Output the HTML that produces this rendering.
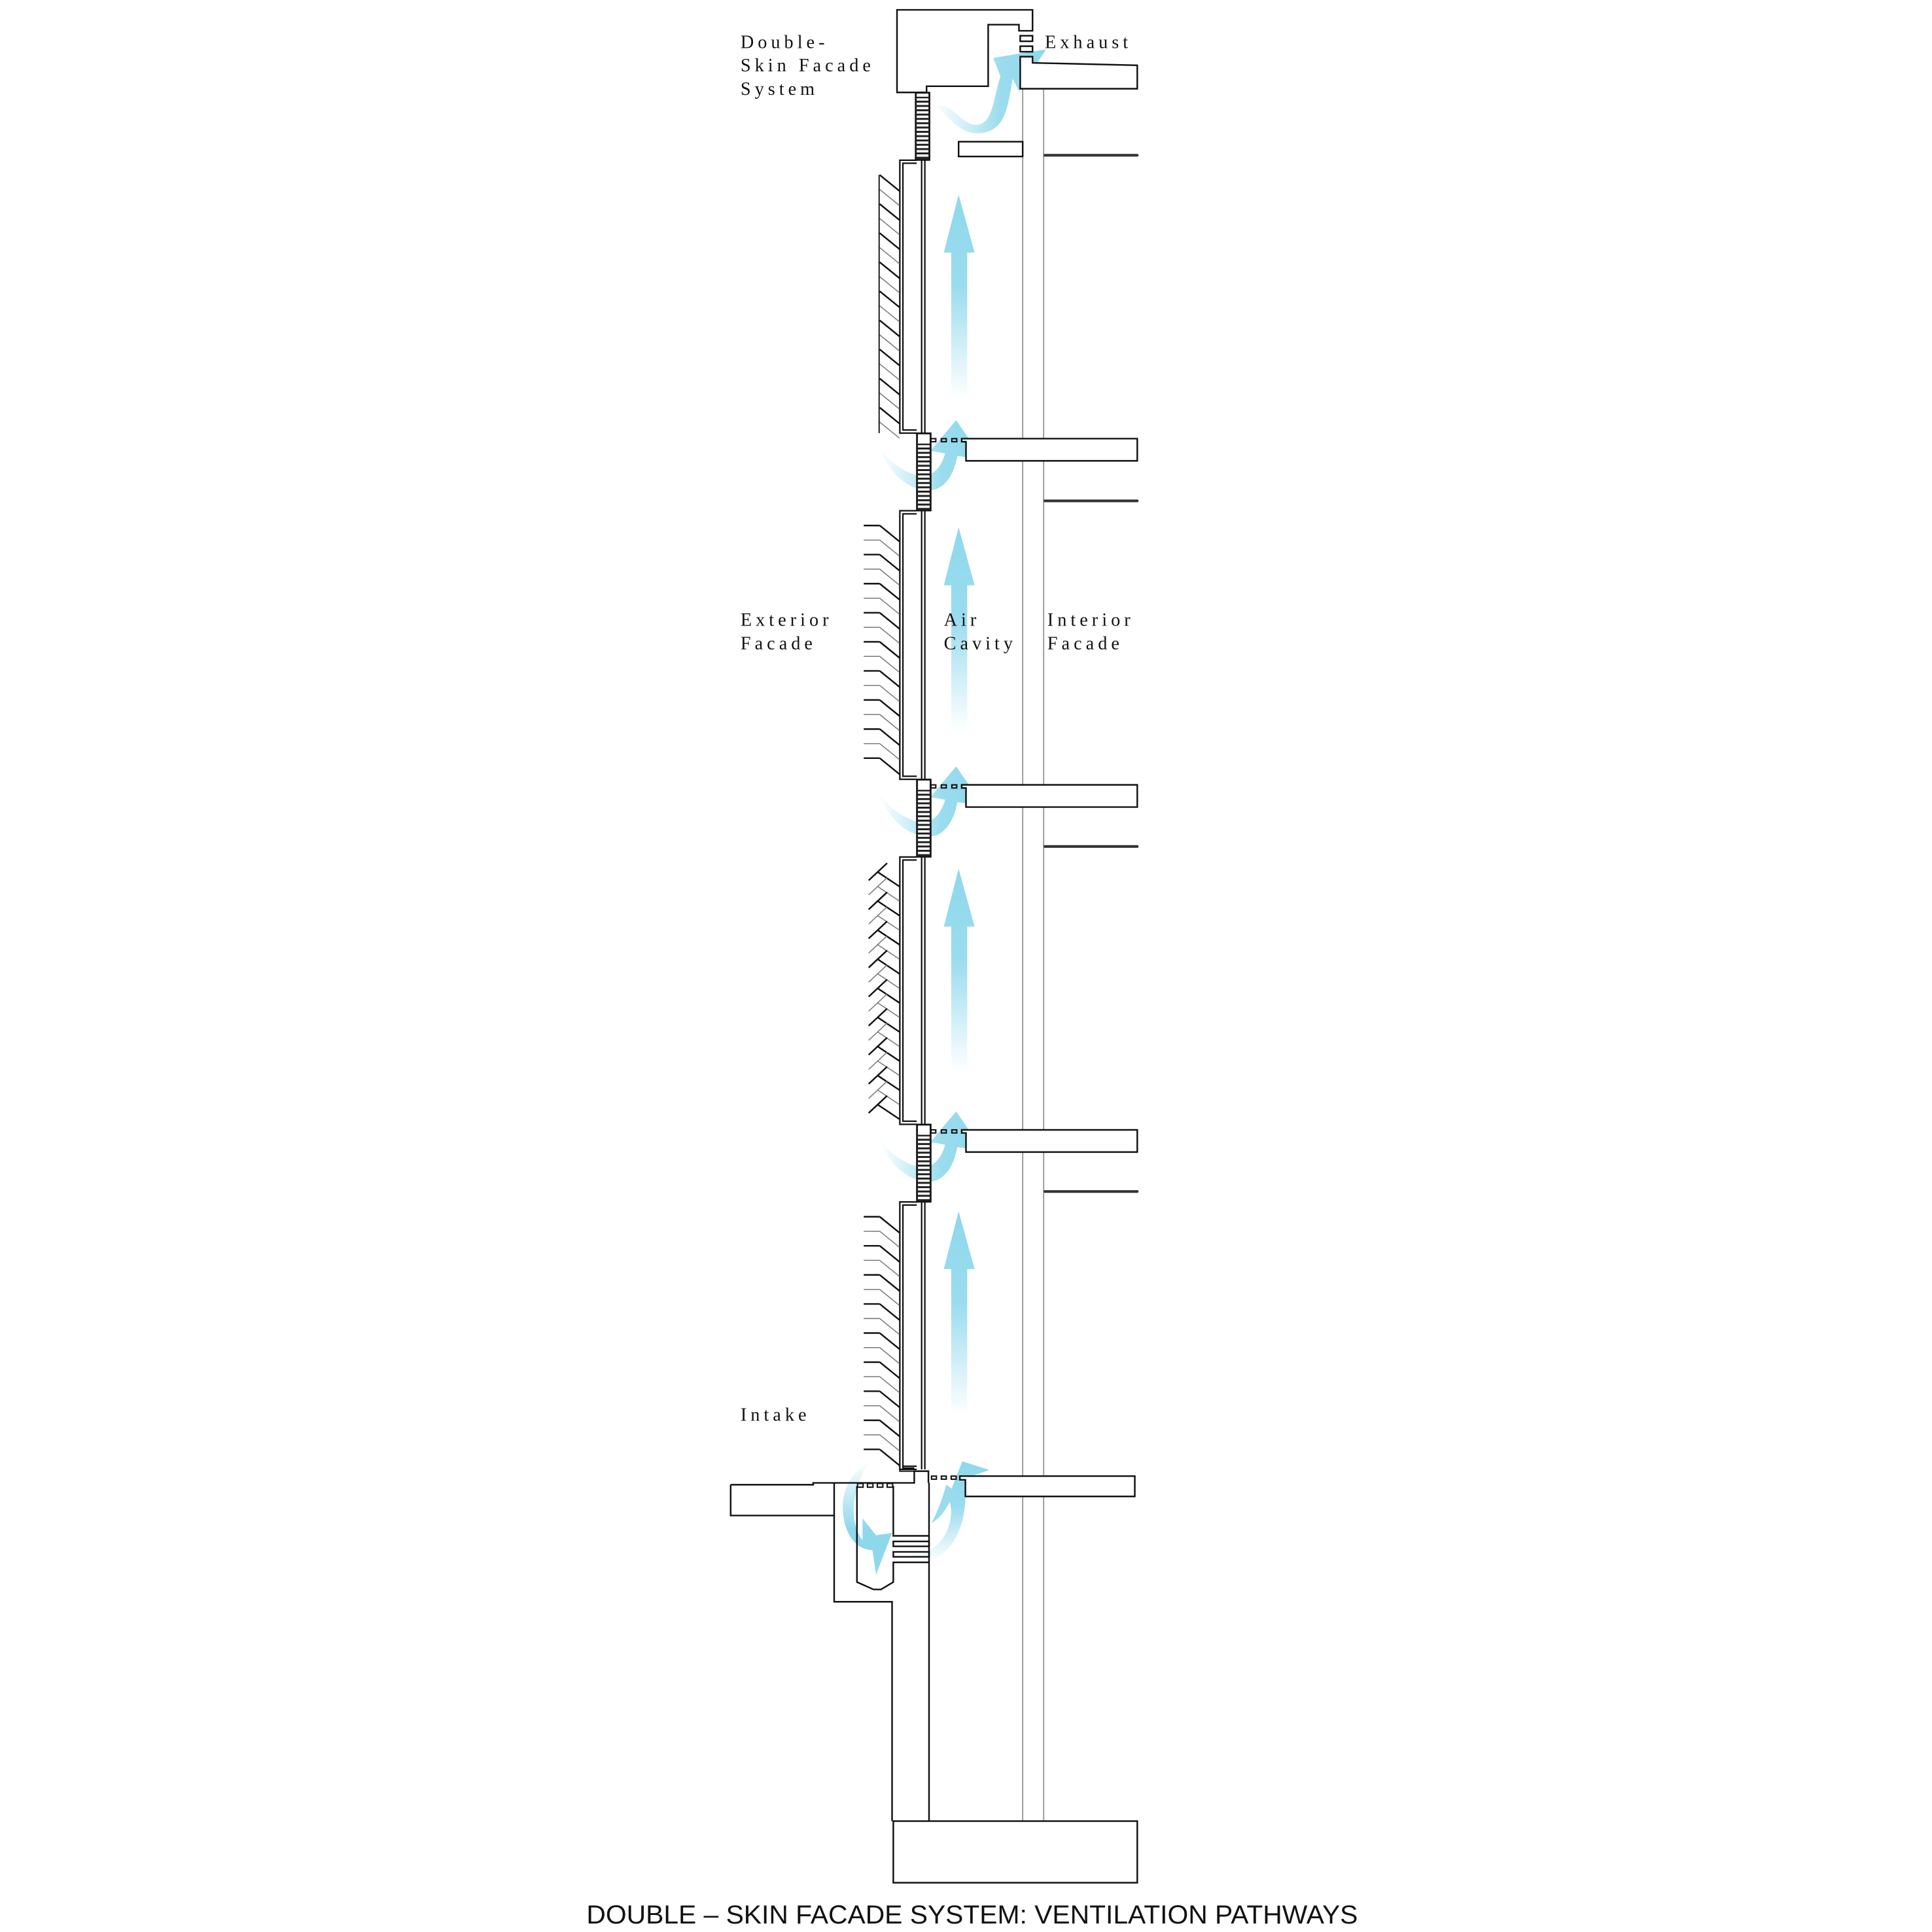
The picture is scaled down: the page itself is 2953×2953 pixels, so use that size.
<!DOCTYPE html>
<html><head><meta charset="utf-8"><style>
html,body{margin:0;padding:0;background:#fff;}
svg{display:block;}
.lbl{font-family:"Liberation Serif",serif;font-size:15px;letter-spacing:3.2px;fill:#111;}
</style></head><body>
<svg id="s" xmlns="http://www.w3.org/2000/svg" width="2953" height="2953" viewBox="0 0 1568 1568">
<defs>
<linearGradient id="up" x1="0" y1="1" x2="0" y2="0">
<stop offset="0" stop-color="#8fd8ec" stop-opacity="0"/>
<stop offset="0.55" stop-color="#8fd8ec" stop-opacity="0.9"/>
<stop offset="1" stop-color="#8fd8ec"/>
</linearGradient>
<linearGradient id="lr" x1="0" y1="0" x2="1" y2="0">
<stop offset="0" stop-color="#8fd8ec" stop-opacity="0"/>
<stop offset="0.6" stop-color="#8fd8ec" stop-opacity="0.9"/>
<stop offset="1" stop-color="#8fd8ec"/>
</linearGradient>
<linearGradient id="dn" x1="0" y1="0" x2="0" y2="1">
<stop offset="0" stop-color="#8fd8ec" stop-opacity="0"/>
<stop offset="0.6" stop-color="#8fd8ec"/>
<stop offset="1" stop-color="#8fd8ec"/>
</linearGradient>
</defs>
<rect width="1568" height="1568" fill="#fff"/>
<g id="blue"></g>
<!-- grey interior facade lines -->
<line x1="830" y1="71" x2="830" y2="1478" stroke="#a0a0a0" stroke-width="1.1"/>
<line x1="847" y1="71" x2="847" y2="1478" stroke="#a0a0a0" stroke-width="1.1"/>
<g fill="none" stroke="#111" stroke-width="1.3">
<!-- top box -->
<path d="M728,8 H838 V25 H827 V20 H802 V70 H752 V75 H728 Z" fill="none"/>
<!-- exhaust slats -->
<rect x="828" y="29" width="10" height="4.5"/>
<rect x="828" y="37.5" width="10" height="4.5"/>
<!-- top slab -->
<path d="M828,46 H838 V51 L923,53 V72 H828 Z" fill="#fff"/>
<!-- rect and thick line -->
<rect x="778" y="115" width="52" height="12" fill="#fff"/>
<!-- intake slab -->
<path d="M593,1205 H660 V1203.5 H742 V1194 H753.5 V1203.5 M593,1205 V1230 H677 V1203.5"/>
<path d="M677,1230 V1300 H724 V1478"/>
<path d="M754,1203.5 V1478"/>
<path d="M695.5,1206 V1284 L709,1290 L715,1290 L725,1284 V1268 H754"/>
<path d="M725,1206 V1246.5 H754"/>
<rect x="725" y="1251" width="29" height="4"/>
<rect x="725" y="1259.5" width="29" height="4"/>
<!-- base -->
<rect x="725" y="1478" width="198" height="50" fill="#fff"/>
<!-- bottom dashed vents -->
<g stroke-width="1.1"><rect x="696" y="1204" width="4.5" height="3"/><rect x="704" y="1204" width="4.5" height="3"/><rect x="712" y="1204" width="4.5" height="3"/><rect x="720" y="1204" width="4.5" height="3"/></g>
</g>
<g id="gen"></g>
<g stroke="#333" stroke-width="2.2" stroke-linecap="round">
<line x1="848" y1="126" x2="923" y2="126"/>
<line x1="848" y1="406.5" x2="923" y2="406.5"/>
<line x1="848" y1="687" x2="923" y2="687"/>
<line x1="848" y1="967" x2="923" y2="967"/>
</g>
<text class="lbl" x="601" y="39">Double-</text>
<text class="lbl" x="601" y="58">Skin Facade</text>
<text class="lbl" x="601" y="77">System</text>
<text class="lbl" x="848" y="39">Exhaust</text>
<text class="lbl" x="601" y="508">Exterior</text>
<text class="lbl" x="601" y="527">Facade</text>
<text class="lbl" x="766" y="508">Air</text>
<text class="lbl" x="766" y="527">Cavity</text>
<text class="lbl" x="850" y="508">Interior</text>
<text class="lbl" x="850" y="527">Facade</text>
<text class="lbl" x="601" y="1153">Intake</text>
<text x="476" y="1561" textLength="626" lengthAdjust="spacingAndGlyphs" style="font-family:'Liberation Sans',sans-serif;font-size:21px;fill:#111">DOUBLE – SKIN FACADE SYSTEM: VENTILATION PATHWAYS</text>
</svg>
<script>
(function(){
var NS="http://www.w3.org/2000/svg";
var g=document.getElementById("gen"), b=document.getElementById("blue");
function el(p,tag,a){var e=document.createElementNS(NS,tag);for(var k in a)e.setAttribute(k,a[k]);p.appendChild(e);return e;}
var S=[356,637,917,1197];
var tips=[158,428,705,983];
// louvre blocks
function louvre(x,y0,y1,cell){
 el(g,"rect",{x:x,y:y0,width:11.5,height:y1-y0,fill:"#222",stroke:"#111","stroke-width":1});
 el(g,"rect",{x:x+1,y:y0+1,width:9.5,height:cell-1.5,fill:"#fff"});
 for(var y=y0+cell+0.8;y<y1-1.5;y+=3.5){el(g,"rect",{x:x+1,y:y,width:9.5,height:1.9,fill:"#fff"});}
}
louvre(743,75,130,4);
for(var i=0;i<4;i++){
 var s=S[i];
 var ytop=(i==0?130:S[i-1]+58.5), ybot=s-4.5;
 if(i<3) louvre(744,s-4.5,s+58.5,9);
 // frame
 el(g,"path",{d:"M744,"+ytop+" H730.3 V"+ybot+" H744 M744,"+(ytop+2.5)+" H732.8 V"+(ybot-2.5)+" H744",fill:"none",stroke:"#111","stroke-width":1.2});
 el(g,"path",{d:"M748,"+ytop+" V"+ybot+" M750.6,"+ytop+" V"+ybot,fill:"none",stroke:"#111","stroke-width":1.2});
 // slab
 if(i<3){
  el(g,"path",{d:"M780.5,"+s+" H923 V"+(s+18)+" H784 V"+(s+2.5)+" H780.5 Z",fill:"#fff",stroke:"#111","stroke-width":1.3});
  for(var k=0;k<3;k++) el(g,"rect",{x:755.5+k*8.5,y:s,width:4,height:2.5,fill:"none",stroke:"#111","stroke-width":1.1});
 } else {
  el(g,"path",{d:"M779,1198 H921 V1214.5 H783.5 V1201 H779 Z",fill:"#fff",stroke:"#111","stroke-width":1.3});
  for(var k=0;k<3;k++) el(g,"rect",{x:756+k*8,y:1198,width:4,height:2.5,fill:"none",stroke:"#111","stroke-width":1.1});
  el(g,"path",{d:"M730.3,1190 V1194 H742 M732.8,1190 V1191.5 H742",fill:"none",stroke:"#111","stroke-width":1.1});
 }
 // exterior blades
 var n=0;
 for(var y=ytop+12;y<ybot-8;y+=11.8,n++){
  var dark=(n%2==0), c=dark?"#111":"#777", w=dark?1.3:0.8;
  if(i==0){
   el(g,"line",{x1:714,y1:y,x2:730,y2:y+13,stroke:c,"stroke-width":w});
  } else if(i==2){
   el(g,"line",{x1:705,y1:y+7,x2:720,y2:y-7,stroke:c,"stroke-width":w});
   el(g,"line",{x1:712,y1:y,x2:730,y2:y+12,stroke:c,"stroke-width":w});
  } else {
   el(g,"line",{x1:701,y1:y,x2:714,y2:y,stroke:c,"stroke-width":w});
   el(g,"line",{x1:714,y1:y,x2:730,y2:y+13,stroke:c,"stroke-width":w});
  }
 }
 if(i==0) el(g,"line",{x1:713.5,y1:ytop+12,x2:713.5,y2:ybot,stroke:"#111","stroke-width":1});
 // straight arrow
 var t=tips[i];
 el(b,"path",{d:"M778,"+t+" L791,"+(t+47)+" H785 V"+(t+165)+" H772 V"+(t+47)+" H766 Z",fill:"url(#up)"});
 // swoosh
 if(i<3){
  var d=s-356;
  var p="M713,"+(360+d)+" C720,"+(386+d)+" 742,"+(402+d)+" 760,"+(397+d)+" C771,"+(392+d)+" 775,"+(380+d)+" 777,"+(370+d)+" L798,"+(373+d)+" L776,"+(341+d)+" L755,"+(366+d)+" L767,"+(368+d)+" C764,"+(380+d)+" 756,"+(388+d)+" 745,"+(386+d)+" C731,"+(382+d)+" 719,"+(373+d)+" 713,"+(360+d)+" Z";
  el(b,"path",{d:p,fill:"url(#lr)"});
 }
}
// top exhaust swoosh
el(b,"path",{d:"M758,86 C774,82 780,104 795,101 C806,98 806,80 812,62 L806,47 L849,40 L827,74 L822,64 C818,82 818,106 796,108 C777,110 770,92 758,86 Z",fill:"url(#lr)"});
// intake swooshes
el(b,"path",{d:"M706,1186 C692,1205 688,1235 700,1250 L700,1232 L711,1246 L724,1244 L711,1278 L708,1258 C695,1258 684,1245 684,1222 C684,1205 695,1192 706,1186 Z",fill:"url(#dn)"});
el(b,"path",{d:"M740,1262 C760,1262 772,1245 772,1225 L770,1214 L781,1186 L803,1193 L783,1200 C786,1230 778,1260 752,1268 Z",fill:"url(#up)"});
el(b,"path",{d:"M756,1236 C762,1225 765,1215 768,1205 L775,1210 C770,1222 764,1232 756,1236 Z",fill:"#9adcee"});
})();
</script>
</body></html>
